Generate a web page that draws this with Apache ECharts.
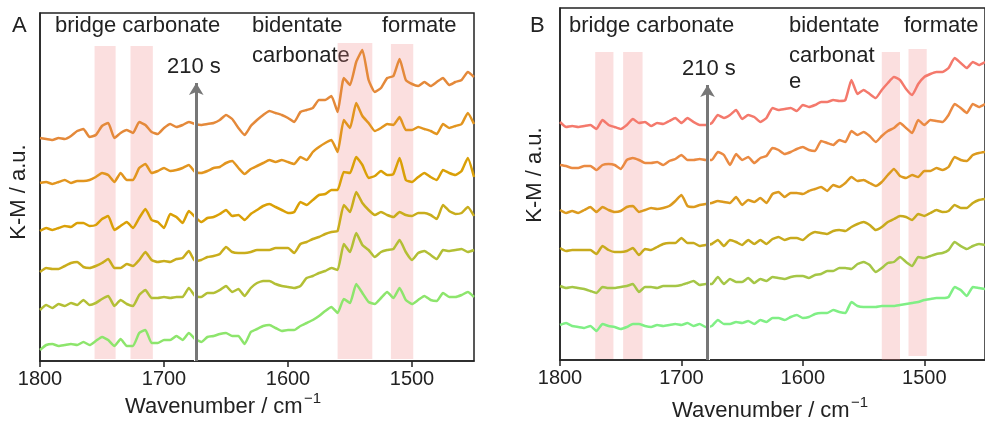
<!DOCTYPE html>
<html>
<head>
<meta charset="utf-8">
<script src="https://cdn.jsdelivr.net/npm/echarts@6/dist/echarts.min.js"></script>
<style>
  html, body { margin: 0; padding: 0; background: #fff; }
  #chart { width: 985px; height: 425px; }
</style>
</head>
<body>
<div id="chart"></div>
<script>
// wavenumber grid shared by every spectrum (cm-1)
const wavenumbers = [1800, 1795, 1790, 1785, 1780, 1775, 1770, 1765, 1760, 1755, 1750,
  1745, 1740, 1735, 1730, 1725, 1720, 1715, 1710, 1705, 1700,
  1695, 1690, 1685, 1680, 1675, 1670, 1665, 1660, 1655, 1650,
  1645, 1640, 1635, 1630, 1625, 1620, 1615, 1610, 1605, 1600,
  1595, 1590, 1585, 1580, 1575, 1570, 1565, 1560, 1555, 1550,
  1545, 1540, 1535, 1530, 1525, 1520, 1515, 1510, 1505, 1500,
  1495, 1490, 1485, 1480, 1475, 1470, 1465, 1460, 1455, 1450];
const xTicks = [1800, 1700, 1600, 1500];

// panel A, stacked K-M spectra (offset, a.u.), top to bottom
const specA1 = [223, 222, 221, 223, 222, 225, 230, 232, 224, 226, 235,
  238, 223, 228, 231, 228, 239, 236, 229, 227, 233,
  237, 234, 236, 239, 237, 236, 237, 238, 241, 246,
  242, 233, 226, 235, 241, 246, 250, 248, 246, 243,
  239, 249, 251, 253, 261, 261, 265, 249, 283, 276,
  299, 311, 281, 269, 273, 283, 285, 302, 281, 277,
  275, 279, 275, 279, 283, 276, 279, 281, 289, 284];
const specA2 = [178, 179, 177, 179, 181, 178, 180, 180, 181, 184, 188,
  186, 179, 188, 181, 181, 193, 197, 188, 190, 193,
  190, 191, 193, 196, 189, 188, 190, 193, 194, 198,
  200, 193, 187, 192, 195, 198, 201, 199, 201, 199,
  197, 204, 201, 209, 214, 218, 221, 209, 241, 233,
  258, 245, 238, 230, 233, 237, 236, 244, 231, 231,
  234, 232, 230, 227, 237, 233, 235, 237, 248, 237];
const specA3 = [130, 133, 131, 133, 135, 134, 138, 138, 135, 136, 142,
  145, 131, 135, 139, 133, 143, 152, 141, 139, 133,
  147, 144, 138, 150, 144, 139, 143, 144, 147, 151,
  145, 146, 141, 147, 151, 155, 157, 154, 151, 148,
  149, 159, 156, 161, 166, 167, 171, 171, 189, 188,
  204, 196, 183, 185, 190, 186, 187, 203, 181, 179,
  184, 188, 184, 181, 191, 188, 186, 190, 203, 184];
const specA4 = [89, 93, 92, 92, 95, 98, 99, 94, 93, 95, 98,
  102, 93, 93, 97, 95, 101, 109, 101, 99, 100,
  99, 102, 103, 110, 100, 101, 104, 105, 107, 114,
  109, 108, 108, 109, 111, 111, 111, 113, 113, 113,
  108, 117, 119, 122, 124, 127, 129, 130, 156, 149,
  169, 158, 151, 146, 149, 146, 144, 149, 146, 145,
  148, 148, 146, 142, 156, 150, 147, 148, 154, 145];
const specA5 = [51, 56, 53, 57, 55, 58, 56, 61, 56, 58, 62,
  65, 55, 61, 57, 55, 66, 71, 63, 63, 64,
  63, 64, 64, 73, 65, 64, 68, 68, 71, 75,
  69, 72, 65, 73, 78, 80, 80, 77, 75, 74,
  73, 75, 83, 85, 88, 90, 93, 91, 117, 109,
  128, 116, 111, 104, 109, 111, 112, 121, 109, 101,
  108, 110, 106, 102, 111, 110, 111, 112, 109, 111];
const specA6 = [11, 16, 17, 15, 16, 17, 16, 19, 16, 20, 24,
  21, 15, 22, 15, 15, 28, 31, 18, 18, 21,
  21, 25, 21, 28, 22, 19, 24, 25, 27, 28,
  25, 25, 17, 29, 32, 35, 36, 33, 30, 31,
  31, 35, 38, 41, 45, 50, 54, 48, 62, 58,
  77, 68, 59, 57, 63, 69, 63, 73, 61, 57,
  61, 65, 61, 60, 68, 64, 64, 66, 69, 64];

// panel B, top to bottom
const specB1 = [238, 233, 234, 233, 234, 235, 231, 240, 235, 233, 231,
  235, 241, 237, 238, 234, 237, 236, 239, 242, 237,
  242, 238, 235, 235, 237, 245, 242, 245, 250, 241,
  245, 243, 238, 242, 252, 250, 251, 252, 249, 255,
  253, 255, 258, 258, 260, 259, 260, 280, 266, 270,
  266, 262, 270, 277, 283, 280, 271, 265, 276, 283,
  286, 288, 288, 292, 302, 297, 292, 298, 295, 298];
const specB2 = [195, 194, 192, 192, 194, 194, 190, 195, 196, 195, 191,
  200, 202, 200, 197, 197, 198, 195, 199, 201, 205,
  200, 200, 201, 200, 200, 208, 205, 195, 206, 200,
  203, 197, 202, 204, 212, 210, 206, 208, 211, 213,
  210, 209, 219, 217, 215, 220, 218, 229, 225, 228,
  224, 218, 224, 229, 232, 237, 232, 227, 240, 235,
  240, 239, 238, 245, 256, 252, 247, 256, 253, 256];
const specB3 = [150, 147, 149, 147, 150, 153, 148, 153, 150, 148, 149,
  153, 154, 148, 150, 152, 151, 152, 154, 159, 165,
  154, 153, 155, 156, 157, 159, 158, 157, 163, 155,
  160, 158, 162, 157, 166, 168, 163, 167, 167, 166,
  169, 171, 173, 169, 175, 173, 177, 183, 179, 180,
  177, 174, 178, 185, 191, 184, 182, 185, 183, 189,
  189, 192, 190, 193, 203, 200, 199, 205, 207, 208];
const specB4 = [112, 109, 110, 110, 110, 110, 106, 114, 110, 108, 108,
  109, 112, 105, 111, 110, 113, 116, 117, 117, 122,
  117, 117, 114, 115, 116, 120, 114, 120, 118, 115,
  120, 116, 120, 116, 121, 123, 120, 122, 122, 120,
  125, 128, 127, 126, 129, 130, 129, 133, 136, 138,
  135, 130, 133, 138, 141, 144, 143, 140, 146, 144,
  147, 150, 148, 149, 155, 152, 152, 157, 160, 161];
const specB5 = [74, 72, 73, 72, 71, 69, 67, 73, 72, 72, 73,
  74, 76, 68, 73, 73, 72, 74, 74, 74, 75,
  77, 79, 75, 76, 76, 83, 76, 81, 78, 78,
  82, 77, 81, 79, 83, 82, 81, 83, 84, 84,
  82, 85, 86, 89, 89, 92, 92, 91, 96, 98,
  95, 88, 92, 97, 98, 103, 98, 94, 103, 102,
  104, 106, 107, 110, 118, 114, 111, 114, 116, 115];
const specB6 = [35, 37, 34, 33, 32, 34, 29, 36, 34, 33, 31,
  33, 36, 36, 34, 33, 35, 34, 35, 36, 35,
  37, 34, 36, 33, 34, 40, 36, 36, 38, 37,
  39, 36, 40, 38, 42, 42, 40, 43, 45, 42,
  43, 46, 47, 47, 50, 48, 47, 58, 54, 53,
  53, 53, 54, 54, 54, 55, 56, 57, 58, 60,
  61, 62, 62, 63, 73, 70, 64, 73, 72, 71];

const colorsA = ['#e4893a', '#e2951f', '#daa007', '#c9ad1c', '#b3bf35', '#8de56c'];
const colorsB = ['#f4796c', '#ea8a42', '#dc9a1e', '#c8aa1c', '#a5c646', '#80ef85'];

// highlighted bands [from, to, bottom, top]
const bandsA = [[1756, 1739, 2, 315], [1727, 1709, 2, 315], [1560, 1532, 2, 318], [1517, 1499, 2, 317]];
const bandsB = [[1771, 1756, 1, 308], [1748, 1732, 1, 308], [1535, 1520, 0, 308], [1513, 1498, 4, 311]];

// "210 s" arrows [wavenumber, top]
const arrowA = [1674, 278];
const arrowB = [1678.5, 275];

const FONT = '"Liberation Sans", Arial, sans-serif';
const chart = echarts.init(document.getElementById('chart'), null, { renderer: 'canvas' });

function spectrum(values, color, idx) {
  return {
    type: 'line',
    xAxisIndex: idx,
    yAxisIndex: idx,
    data: wavenumbers.map((w, i) => [w, values[i]]),
    showSymbol: false,
    symbol: 'none',
    smooth: 0.15,
    silent: true,
    z: 2,
    lineStyle: { color: color, width: 2.5 },
    itemStyle: { color: color }
  };
}

function bandSeries(bands, idx) {
  return {
    type: 'line',
    xAxisIndex: idx,
    yAxisIndex: idx,
    data: [],
    silent: true,
    z: 3,
    markArea: {
      silent: true,
      itemStyle: { color: 'rgba(240,128,128,0.25)' },
      data: bands.map(b => [{ coord: [b[0], b[2]] }, { coord: [b[1], b[3]] }])
    }
  };
}

function arrowSeries(arrow, idx, color, width, head) {
  return {
    type: 'line',
    xAxisIndex: idx,
    yAxisIndex: idx,
    data: [],
    silent: true,
    z: color === '#fff' ? 4 : 5,
    markLine: {
      silent: true,
      animation: false,
      symbol: head ? ['none', 'arrow'] : ['none', 'none'],
      symbolSize: [11, 12],
      label: { show: false },
      lineStyle: { color: color, width: width, type: 'solid', opacity: 1 },
      data: [[{ coord: [arrow[0], 0] }, { coord: [arrow[0], arrow[1]] }]]
    }
  };
}

function xAxis(idx) {
  return {
    type: 'value',
    gridIndex: idx,
    min: 1450,
    max: 1800,
    inverse: true,
    axisLine: { show: true, lineStyle: { color: '#222', width: 1.5 } },
    axisTick: { show: true, length: 6, customValues: xTicks, lineStyle: { color: '#222', width: 1.5 } },
    axisLabel: {
      customValues: xTicks,
      formatter: v => String(v),
      fontSize: 20, color: '#222', fontFamily: FONT, margin: 8
    },
    splitLine: { show: false }
  };
}

function yAxis(idx, max) {
  return {
    type: 'value',
    gridIndex: idx,
    min: 0,
    max: max,
    axisLine: { show: true, lineStyle: { color: '#222', width: 1.5 } },
    axisTick: { show: false },
    axisLabel: { show: false },
    splitLine: { show: false }
  };
}

function text(x, y, str, size) {
  return {
    type: 'text',
    x: x,
    y: y,
    silent: true,
    style: {
      text: str,
      font: size + 'px ' + FONT,
      fill: '#222',
      align: 'left',
      verticalAlign: 'middle'
    }
  };
}

function vtext(x, y, str) {
  return {
    type: 'text',
    x: x,
    y: y,
    rotation: Math.PI / 2,
    silent: true,
    style: { text: str, font: '22px ' + FONT, fill: '#222', align: 'center', verticalAlign: 'middle' }
  };
}

const option = {
  animation: false,
  backgroundColor: '#fff',
  grid: [
    { left: 40, top: 13, width: 434, height: 348, show: true, borderColor: '#222', borderWidth: 1.5, backgroundColor: 'transparent' },
    { left: 560, top: 8, width: 434, height: 352, show: true, borderColor: '#222', borderWidth: 1.5, backgroundColor: 'transparent' }
  ],
  xAxis: [xAxis(0), xAxis(1)],
  yAxis: [yAxis(0, 348), yAxis(1, 352)],
  series: [
    ...[specA1, specA2, specA3, specA4, specA5, specA6].map((s, i) => spectrum(s, colorsA[i], 0)),
    ...[specB1, specB2, specB3, specB4, specB5, specB6].map((s, i) => spectrum(s, colorsB[i], 1)),
    bandSeries(bandsA, 0),
    bandSeries(bandsB, 1),
    arrowSeries(arrowA, 0, '#fff', 4, false),
    arrowSeries(arrowA, 0, '#777', 3, true),
    arrowSeries(arrowB, 1, '#fff', 4, false),
    arrowSeries(arrowB, 1, '#777', 3, true)
  ],
  graphic: [
    text(12, 25.5, 'A', 22),
    text(55, 25.5, 'bridge carbonate', 22),
    text(252, 25.5, 'bidentate', 22),
    text(252, 55.5, 'carbonate', 22),
    text(382, 25.5, 'formate', 22),
    text(167, 66.5, '210 s', 22),
    text(530, 25.5, 'B', 22),
    text(569, 25.5, 'bridge carbonate', 22),
    text(789, 25.5, 'bidentate', 22),
    text(789, 55.5, 'carbonat', 22),
    text(789, 81.5, 'e', 22),
    text(904, 25.5, 'formate', 22),
    text(682, 68.5, '210 s', 22),
    vtext(18.5, 192, 'K-M / a.u.'),
    vtext(535, 175, 'K-M / a.u.'),
    text(125, 407, 'Wavenumber / cm', 22),
    text(304, 399, '\u22121', 15),
    text(672, 411, 'Wavenumber / cm', 22),
    text(851, 403, '\u22121', 15)
  ]
};

chart.setOption(option);
</script>
</body>
</html>
